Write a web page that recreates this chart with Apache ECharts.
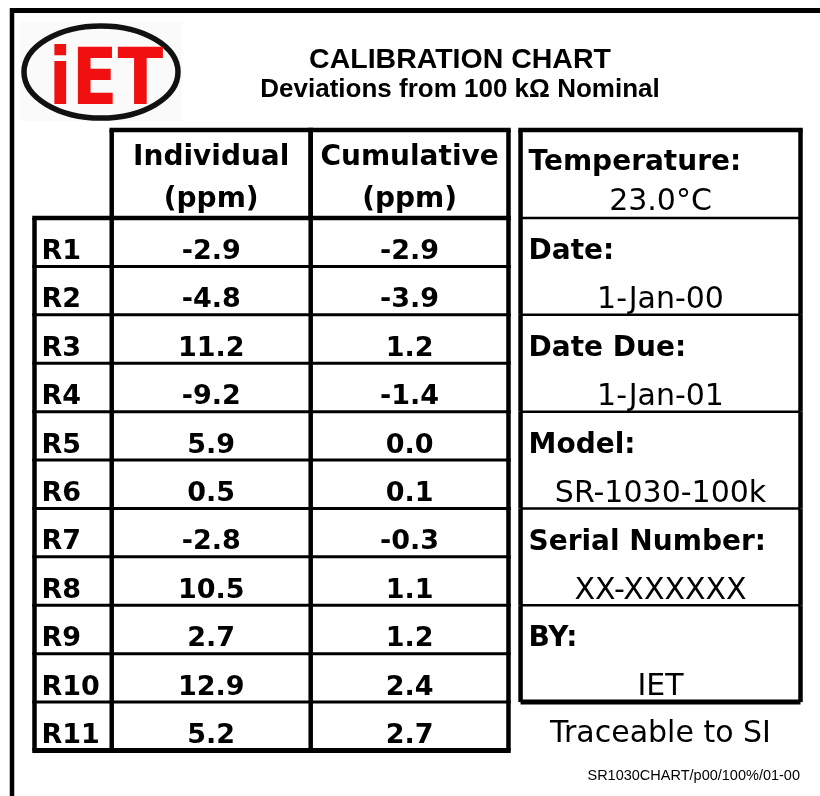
<!DOCTYPE html>
<html><head><meta charset="utf-8">
<script src="https://cdn.jsdelivr.net/npm/echarts@6/dist/echarts.min.js"></script>
<style>html,body{margin:0;padding:0;background:#fff}#c{width:820px;height:796px}</style>
</head><body><div id="c"></div>
<script>
// ---- data ----
const titleText = 'CALIBRATION CHART';
const subtitleText = 'Deviations from 100 k\u03A9 Nominal';
const logoText = 'iET';
const rowLabels = ['R1','R2','R3','R4','R5','R6','R7','R8','R9','R10','R11'];
const individualPpm = [-2.9, -4.8, 11.2, -9.2, 5.9, 0.5, -2.8, 10.5, 2.7, 12.9, 5.2];
const cumulativePpm = [-2.9, -3.9, 1.2, -1.4, 0.0, 0.1, -0.3, 1.1, 1.2, 2.4, 2.7];
const columnHeaders = ['Individual', 'Cumulative'];
const unitLabel = '(ppm)';
const infoLabels = ['Temperature:', 'Date:', 'Date Due:', 'Model:', 'Serial Number:', 'BY:'];
const infoValues = ['23.0\u00B0C', '1-Jan-00', '1-Jan-01', 'SR-1030-100k', 'XX-XXXXXX', 'IET'];
const traceNote = 'Traceable to SI';
const footNote = 'SR1030CHART/p00/100%/01-00';

// ---- layout (axis units) ----
const HEADER_ROWS = 1.818;
const COL = [0, 0.39, 1.395, 2.394];
const PANEL = [2.455, 3.869];
const SPACED = '"DejaVu Sans"';
const PLAIN = '"DejaVu Sans"';
const HELV = '"Liberation Sans", Arial, sans-serif';
const INK = '#000';
const ROW_TEXT = 0.70;

function vline(x, y1, y2, w) { return {type:'line', shape:{x1:x, y1:y1, x2:x, y2:y2}, style:{stroke:INK, lineWidth:w}}; }
function hline(x1, x2, y, w) { return {type:'line', shape:{x1:x1, y1:y, x2:x2, y2:y}, style:{stroke:INK, lineWidth:w}}; }
function txt(x, y, s, size, weight, family, align) {
  return {type:'text', x:x, y:y, style:{text:s, fill:INK, fontSize:size, fontWeight:weight, fontFamily:family, align:align || 'center', verticalAlign:'middle'}};
}

function rowItem(params, api) {
  const i = api.value(0);
  const yT = api.coord([0, i])[1], yB = api.coord([0, i + 1])[1];
  const xs = COL.map(c => api.coord([c, 0])[0]);
  const yText = yT + (yB - yT) * ROW_TEXT;
  const last = i === rowLabels.length - 1;
  const ch = [];
  if (i === 0) ch.push(hline(xs[0] - 2.25, xs[3] + 2.25, yT, 4.5));
  ch.push(hline(xs[0] - 2.25, xs[3] + 2.25, yB, last ? 5 : 3));
  xs.forEach(x => ch.push(vline(x, yT, yB, 4.5)));
  ch.push(txt(xs[0] + 7, yText, rowLabels[params.dataIndex], 27, 'bold', SPACED, 'left'));
  ch.push(txt((xs[1] + xs[2]) / 2, yText, api.value(1).toFixed(1), 27, 'bold', SPACED));
  ch.push(txt((xs[2] + xs[3]) / 2, yText, api.value(2).toFixed(1), 27, 'bold', SPACED));
  return {type:'group', children:ch};
}

function headerItem(params, api) {
  const j = api.value(0);
  const yT = api.coord([0, -HEADER_ROWS])[1], yB = api.coord([0, 0])[1];
  const xL = api.coord([COL[j + 1], 0])[0], xR = api.coord([COL[j + 2], 0])[0];
  const y1 = api.coord([0, -1.24])[1], y2 = api.coord([0, -0.37])[1];
  return {type:'group', children:[
    hline(xL - 2.25, xR + 2.25, yT, 4.5),
    vline(xL, yT, yB, 4.5), vline(xR, yT, yB, 4.5),
    txt((xL + xR) / 2, y1, columnHeaders[params.dataIndex], 28, 'bold', SPACED),
    txt((xL + xR) / 2, y2, unitLabel, 28, 'bold', SPACED)
  ]};
}

function panelItem(params, api) {
  const k = api.value(0);
  const top = k === 0 ? -HEADER_ROWS : 2 * (k - 1);
  const bot = k === 0 ? 0 : 2 * k;
  const yT = api.coord([0, top])[1], yB = api.coord([0, bot])[1];
  const xL = api.coord([PANEL[0], 0])[0], xR = api.coord([PANEL[1], 0])[0];
  const yl = k === 0 ? api.coord([0, -1.14])[1] : api.coord([0, top + ROW_TEXT])[1];
  const yv = k === 0 ? api.coord([0, -0.33])[1] : api.coord([0, top + 1 + ROW_TEXT])[1];
  const lastK = k === infoLabels.length - 1;
  const ch = [vline(xL, yT, yB, 4.5), vline(xR, yT, yB, 4.5)];
  if (k === 0) ch.push(hline(xL - 2.25, xR + 2.25, yT, 4.5));
  ch.push(hline(xL, xR, yB, lastK ? 5 : 2.5));
  ch.push(txt(xL + 8, yl, infoLabels[params.dataIndex], 28, 'bold', SPACED, 'left'));
  ch.push(txt((xL + xR) / 2, yv, infoValues[params.dataIndex], 30, 'normal', PLAIN));
  return {type:'group', children:ch};
}

function noteItem(params, api) {
  const xL = api.coord([PANEL[0], 0])[0], xR = api.coord([PANEL[1], 0])[0];
  const y = api.coord([0, api.value(0)])[1];
  return txt((xL + xR) / 2, y, traceNote, 30, 'normal', PLAIN);
}

const chart = echarts.init(document.getElementById('c'), null, {renderer:'canvas'});
chart.setOption({
  animation: false,
  backgroundColor: '#fff',
  grid: {left: 34.5, right: 19.5, top: 130, bottom: 45.5},
  xAxis: {type:'value', min:0, max:PANEL[1], show:false},
  yAxis: {type:'value', min:-HEADER_ROWS, max:rowLabels.length, inverse:true, show:false},
  graphic: [
    {type:'line', shape:{x1:10, y1:10.5, x2:820, y2:10.5}, style:{stroke:INK, lineWidth:5}},
    {type:'line', shape:{x1:12, y1:8, x2:12, y2:796}, style:{stroke:INK, lineWidth:4.5}},
    {type:'rect', shape:{x:20, y:22, width:162, height:99}, style:{fill:'#fafafb'}},
    {type:'ellipse', shape:{cx:101, cy:72, rx:77, ry:46}, style:{fill:null, stroke:'#111', lineWidth:5.5}},
    {type:'text', x:106, y:84, scaleX:0.86, style:{text:logoText, fill:'#f01010', fontSize:78, fontWeight:'bold', fontFamily:SPACED, align:'center', verticalAlign:'middle'}},
    {type:'text', x:460, y:60, style:{text:titleText, fill:INK, fontSize:28.5, fontWeight:'bold', fontFamily:HELV, align:'center', verticalAlign:'middle'}},
    {type:'text', x:460, y:90, style:{text:subtitleText, fill:INK, fontSize:26, fontWeight:'bold', fontFamily:HELV, align:'center', verticalAlign:'middle'}},
    {type:'text', x:800, y:776, style:{text:footNote, fill:INK, fontSize:14.5, fontFamily:HELV, align:'right', verticalAlign:'middle'}}
  ],
  series: [
    {type:'custom', coordinateSystem:'cartesian2d', clip:false, renderItem:headerItem,
     data: columnHeaders.map((h, j) => [j])},
    {type:'custom', coordinateSystem:'cartesian2d', clip:false, renderItem:rowItem,
     data: rowLabels.map((r, i) => [i, individualPpm[i], cumulativePpm[i]])},
    {type:'custom', coordinateSystem:'cartesian2d', clip:false, renderItem:panelItem,
     data: infoLabels.map((l, k) => [k])},
    {type:'custom', coordinateSystem:'cartesian2d', clip:false, renderItem:noteItem,
     data: [[10.66]]}
  ]
});
</script></body></html>
